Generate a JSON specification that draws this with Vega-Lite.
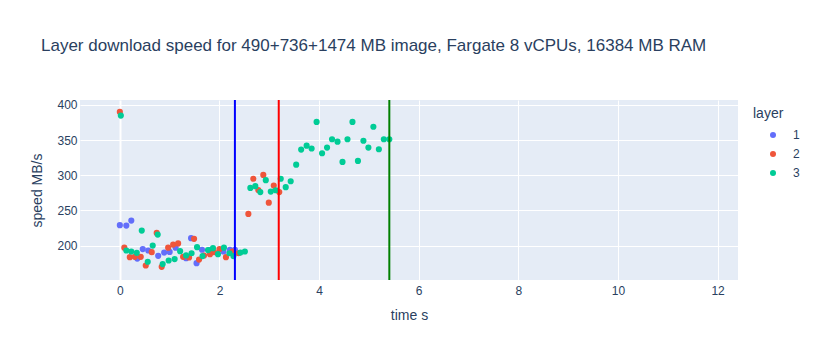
{
  "$schema": "https://vega.github.io/schema/vega-lite/v6.json",
  "width": 658,
  "height": 180,
  "autosize": {"type": "none"},
  "padding": {"left": 80, "top": 100, "right": 80, "bottom": 80},
  "background": "white",
  "title": {
    "text": "Layer download speed for 490+736+1474 MB image, Fargate 8 vCPUs, 16384 MB RAM",
    "anchor": "start",
    "frame": "group",
    "dx": -39,
    "offset": 44,
    "fontSize": 17,
    "fontWeight": "normal",
    "font": "Liberation Sans",
    "color": "#2a3f5f"
  },
  "config": {
    "view": {"fill": "#E5ECF6", "stroke": null},
    "font": "Liberation Sans",
    "axis": {
      "domain": false,
      "ticks": false,
      "gridColor": "white",
      "labelColor": "#2a3f5f",
      "labelFontSize": 12,
      "labelFont": "Liberation Sans",
      "titleColor": "#2a3f5f",
      "titleFontSize": 14,
      "titleFont": "Liberation Sans",
      "titleFontWeight": "normal"
    }
  },
  "datasets": {
    "pts": [
      {"layer": "1", "t": 0.0, "speed": 229},
      {"layer": "1", "t": 0.13, "speed": 228.4},
      {"layer": "1", "t": 0.23, "speed": 235.5},
      {"layer": "1", "t": 0.35, "speed": 181.5},
      {"layer": "1", "t": 0.46, "speed": 195},
      {"layer": "1", "t": 0.57, "speed": 193},
      {"layer": "1", "t": 0.77, "speed": 185.4},
      {"layer": "1", "t": 0.89, "speed": 190},
      {"layer": "1", "t": 1.0, "speed": 191},
      {"layer": "1", "t": 1.12, "speed": 197},
      {"layer": "1", "t": 1.33, "speed": 182},
      {"layer": "1", "t": 1.43, "speed": 210.5},
      {"layer": "1", "t": 1.54, "speed": 175},
      {"layer": "1", "t": 1.65, "speed": 194},
      {"layer": "1", "t": 1.8, "speed": 193.5},
      {"layer": "1", "t": 2.08, "speed": 191.5},
      {"layer": "1", "t": 2.21, "speed": 194},
      {"layer": "1", "t": 2.31, "speed": 194},
      {"layer": "2", "t": 0.0, "speed": 390},
      {"layer": "2", "t": 0.09, "speed": 197},
      {"layer": "2", "t": 0.2, "speed": 183.5},
      {"layer": "2", "t": 0.3, "speed": 184},
      {"layer": "2", "t": 0.42, "speed": 184},
      {"layer": "2", "t": 0.52, "speed": 171.6},
      {"layer": "2", "t": 0.64, "speed": 190.6},
      {"layer": "2", "t": 0.74, "speed": 218},
      {"layer": "2", "t": 0.84, "speed": 169.7},
      {"layer": "2", "t": 0.97, "speed": 197},
      {"layer": "2", "t": 1.07, "speed": 201.4},
      {"layer": "2", "t": 1.17, "speed": 203},
      {"layer": "2", "t": 1.27, "speed": 184},
      {"layer": "2", "t": 1.39, "speed": 183},
      {"layer": "2", "t": 1.49, "speed": 209.5},
      {"layer": "2", "t": 1.59, "speed": 180},
      {"layer": "2", "t": 1.69, "speed": 185.8},
      {"layer": "2", "t": 1.81, "speed": 187.8},
      {"layer": "2", "t": 1.89, "speed": 190.6},
      {"layer": "2", "t": 2.0, "speed": 195},
      {"layer": "2", "t": 2.13, "speed": 183.5},
      {"layer": "2", "t": 2.26, "speed": 191.5},
      {"layer": "2", "t": 2.38, "speed": 189},
      {"layer": "2", "t": 2.58, "speed": 245},
      {"layer": "2", "t": 2.68, "speed": 295},
      {"layer": "2", "t": 2.78, "speed": 279},
      {"layer": "2", "t": 2.88, "speed": 300.5},
      {"layer": "2", "t": 2.99, "speed": 261},
      {"layer": "2", "t": 3.09, "speed": 285.3},
      {"layer": "2", "t": 3.2, "speed": 276},
      {"layer": "3", "t": 0.02, "speed": 384.8},
      {"layer": "3", "t": 0.13, "speed": 193},
      {"layer": "3", "t": 0.23, "speed": 191.5},
      {"layer": "3", "t": 0.34, "speed": 189.6},
      {"layer": "3", "t": 0.44, "speed": 221.3},
      {"layer": "3", "t": 0.56, "speed": 177},
      {"layer": "3", "t": 0.66, "speed": 200},
      {"layer": "3", "t": 0.76, "speed": 215.6},
      {"layer": "3", "t": 0.86, "speed": 173.6},
      {"layer": "3", "t": 0.98, "speed": 178.7},
      {"layer": "3", "t": 1.1, "speed": 180.7},
      {"layer": "3", "t": 1.21, "speed": 192},
      {"layer": "3", "t": 1.33, "speed": 186},
      {"layer": "3", "t": 1.44, "speed": 189},
      {"layer": "3", "t": 1.55, "speed": 197.7},
      {"layer": "3", "t": 1.66, "speed": 185},
      {"layer": "3", "t": 1.77, "speed": 193.5},
      {"layer": "3", "t": 1.87, "speed": 196.3},
      {"layer": "3", "t": 1.97, "speed": 187.8},
      {"layer": "3", "t": 2.09, "speed": 197},
      {"layer": "3", "t": 2.2, "speed": 189},
      {"layer": "3", "t": 2.28, "speed": 185},
      {"layer": "3", "t": 2.42, "speed": 190},
      {"layer": "3", "t": 2.51, "speed": 191.5},
      {"layer": "3", "t": 2.62, "speed": 282},
      {"layer": "3", "t": 2.72, "speed": 284.4},
      {"layer": "3", "t": 2.82, "speed": 276},
      {"layer": "3", "t": 2.93, "speed": 293},
      {"layer": "3", "t": 3.03, "speed": 276.8},
      {"layer": "3", "t": 3.13, "speed": 278.7},
      {"layer": "3", "t": 3.23, "speed": 295},
      {"layer": "3", "t": 3.33, "speed": 283},
      {"layer": "3", "t": 3.43, "speed": 291.5},
      {"layer": "3", "t": 3.54, "speed": 315},
      {"layer": "3", "t": 3.64, "speed": 336.5},
      {"layer": "3", "t": 3.75, "speed": 342},
      {"layer": "3", "t": 3.85, "speed": 338},
      {"layer": "3", "t": 3.95, "speed": 375.8},
      {"layer": "3", "t": 4.06, "speed": 331.3},
      {"layer": "3", "t": 4.16, "speed": 339.3},
      {"layer": "3", "t": 4.26, "speed": 351.2},
      {"layer": "3", "t": 4.37, "speed": 347.8},
      {"layer": "3", "t": 4.47, "speed": 319},
      {"layer": "3", "t": 4.57, "speed": 351.2},
      {"layer": "3", "t": 4.67, "speed": 375.8},
      {"layer": "3", "t": 4.78, "speed": 320.4},
      {"layer": "3", "t": 4.89, "speed": 349},
      {"layer": "3", "t": 4.99, "speed": 339.3},
      {"layer": "3", "t": 5.09, "speed": 369},
      {"layer": "3", "t": 5.2, "speed": 337},
      {"layer": "3", "t": 5.3, "speed": 351.2},
      {"layer": "3", "t": 5.41, "speed": 351.2}
    ],
    "vlines": [
      {"t": 2.31, "c": "blue"},
      {"t": 3.19, "c": "red"},
      {"t": 5.41, "c": "green"}
    ]
  },
  "layer": [
    {
      "data": {"name": "pts"},
      "mark": {"type": "point", "filled": true, "opacity": 1, "size": 38, "shape": "circle"},
      "encoding": {
        "x": {
          "field": "t", "type": "quantitative",
          "scale": {"domain": [-0.8, 12.41], "nice": false, "zero": false},
          "axis": {
            "title": "time s",
            "values": [0, 2, 4, 6, 8, 10, 12],
            "labelPadding": 5,
            "titlePadding": 12,
            "gridWidth": {"condition": {"test": "datum.value === 0", "value": 2}, "value": 1}
          }
        },
        "y": {
          "field": "speed", "type": "quantitative",
          "scale": {"domain": [151, 407], "nice": false, "zero": false},
          "axis": {
            "title": "speed MB/s",
            "values": [200, 250, 300, 350, 400],
            "labelPadding": 3,
            "titlePadding": 12
          }
        },
        "color": {
          "field": "layer", "type": "nominal",
          "scale": {"domain": ["1", "2", "3"], "range": ["#636efa", "#EF553B", "#00cc96"]},
          "legend": {
            "title": "layer",
            "orient": "none",
            "legendX": 673,
            "legendY": 7,
            "padding": 0,
            "titleFontSize": 14,
            "titleFontWeight": "normal",
            "titleColor": "#2a3f5f",
            "titlePadding": 8,
            "labelFontSize": 12,
            "labelColor": "#2a3f5f",
            "symbolType": "circle",
            "symbolSize": 36,
            "symbolOffset": 14,
            "labelOffset": 14,
            "rowPadding": 7
          }
        },
        "order": {"field": "layer", "type": "nominal"}
      }
    },
    {
      "data": {"name": "vlines"},
      "mark": {"type": "rule", "strokeWidth": 2},
      "encoding": {
        "x": {"field": "t", "type": "quantitative"},
        "color": {"field": "c", "type": "nominal", "scale": null, "legend": null}
      }
    }
  ],
  "resolve": {"scale": {"color": "independent"}}
}
